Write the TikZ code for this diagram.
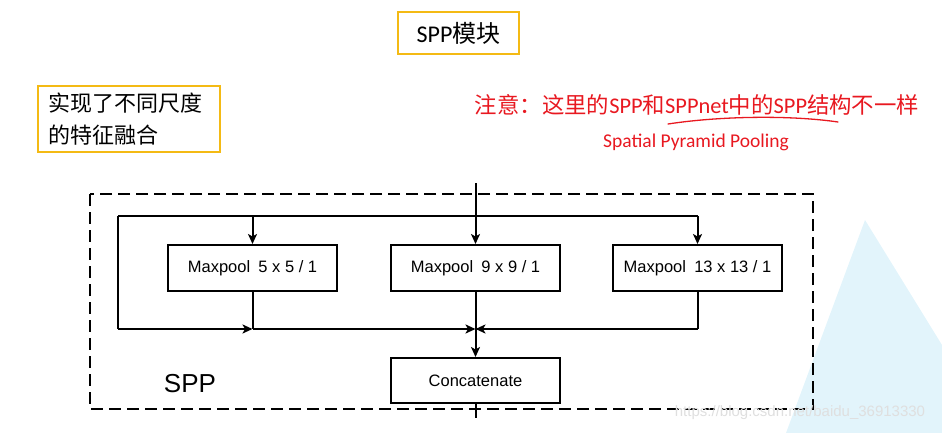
\documentclass[tikz,border=0pt]{standalone}
\usepackage{fontspec}
\setmainfont{Liberation Sans}
\newfontfamily\cjk{Noto Sans CJK SC}
\newfontfamily\calib{Carlito}
\usetikzlibrary{arrows.meta}

\definecolor{boxorange}{RGB}{244,186,20}
\definecolor{notered}{RGB}{232,24,32}
\definecolor{paleblue}{RGB}{226,244,251}

\tikzset{
  notebox/.style={draw=boxorange,line width=1.8pt,inner sep=0pt},
  poolbox/.style={draw,line width=2pt,minimum width=169pt,minimum height=46pt,inner sep=0pt,font=\fontsize{16.5}{18}\selectfont},
  link/.style={line width=2pt},
  arr/.style={link,-{Stealth[length=10pt,width=9pt,inset=2.5pt]}}
}

\begin{document}
\begin{tikzpicture}[x=1pt,y=1pt,yscale=-1]
\useasboundingbox (0,0) rectangle (942,433);

% Background
\fill[paleblue] (865,220) -- (942,345) -- (942,433) -- (786,433) -- cycle;

% Text Node
\node[notebox,minimum width=121pt,minimum height=42pt] (title) at (458.5,33)
  {\fontsize{24}{28}\selectfont\calib SPP\cjk 模块};
% Text Node
\node[notebox,minimum width=182pt,minimum height=66pt,align=left,text width=162pt,
  font=\fontsize{22}{29}\selectfont\cjk] (fusion) at (129,119)
  {实现了不同尺度\\[3pt]的特征融合};
% Text Node
\node[text=notered,inner sep=0pt] (note) at (697,105)
  {\fontsize{22.4}{26}\selectfont\cjk 注意：这里的{\calib SPP}和{\calib SPPnet}中的{\calib SPP}结构不一样};
% Text Node
\node[text=notered,inner sep=0pt] (full) at (696,142)
  {\fontsize{19.5}{22}\selectfont\calib Spatial Pyramid Pooling};
% Underline
\draw[notered,line width=1.3pt,line cap=round] (668,124) .. controls (720,116) and (790,115) .. (838,122);

% SPP frame
\draw[line width=2pt,dash pattern=on 12pt off 6pt] (90,194) rectangle (813,409);
\node[inner sep=0pt] (spp) at (190,384) {\fontsize{26}{30}\selectfont SPP};

% Pool Nodes
\node[poolbox] (m5) at (252.5,268) {Maxpool\enspace 5 x 5 / 1};
\node[poolbox] (m9) at (475.5,268) {Maxpool\enspace 9 x 9 / 1};
\node[poolbox] (m13) at (697.5,268) {Maxpool\enspace 13 x 13 / 1};
\node[poolbox,minimum height=45pt] (cat) at (475.5,380.5) {Concatenate};

% Junctions
\coordinate (in) at (475.5,183);
\coordinate (tl) at (118,216);
\coordinate (t5) at (252.5,216);
\coordinate (t13) at (697.5,216);
\coordinate (bl) at (118,329);
\coordinate (b5) at (252.5,329);
\coordinate (merge) at (475.5,329);
\coordinate (b13) at (697.5,329);
\coordinate (out) at (475.5,418);

% Connection
\draw[arr] (in) -- (m9.north);
% Connection
\draw[link] (tl) -- (t13);
% Connection
\draw[arr] (t5) -- (m5.north);
% Connection
\draw[arr] (t13) -- (m13.north);
% Connection
\draw[link] (tl) -- (bl);
% Connection
\draw[arr] (bl) -- (b5);
% Connection
\draw[link] (m5.south) -- (b5);
% Connection
\draw[arr] (b5) -- (merge);
% Connection
\draw[link] (m13.south) -- (b13);
% Connection
\draw[arr] (b13) -- (merge);
% Connection
\draw[link] (m9.south) -- (merge);
% Connection
\draw[arr] (merge) -- (cat.north);
% Connection
\draw[link] (cat.south) -- (out);

% Watermark
\node[text=gray!25,inner sep=0pt] (mark) at (800,413) {\fontsize{15}{17}\selectfont https://blog.csdn.net/baidu\_36913330};

\end{tikzpicture}
\end{document}
